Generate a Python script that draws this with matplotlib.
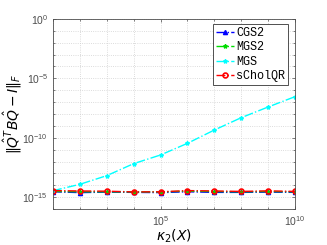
import numpy as np
import matplotlib
matplotlib.use("Agg")
import matplotlib.pyplot as plt
from matplotlib.ticker import NullFormatter

plt.rcParams['font.family'] = ['Liberation Sans', 'DejaVu Sans']

# condition numbers kappa_2(X)
kappa = [1e1, 1e2, 1e3, 1e4, 1e5, 1e6, 1e7, 1e8, 1e9, 1e10]

# loss of orthogonality (log10 values)
cgs2_exp = [-14.55, -14.62, -14.58, -14.6, -14.62, -14.55, -14.6, -14.6, -14.58, -14.6]
mgs2_exp = [-14.52, -14.55, -14.55, -14.56, -14.56, -14.5, -14.53, -14.55, -14.53, -14.55]
mgs_exp = [-14.46, -13.92, -13.19, -12.18, -11.45, -10.47, -9.35, -8.31, -7.41, -6.54]
schol_exp = [-14.45, -14.48, -14.5, -14.56, -14.55, -14.45, -14.48, -14.52, -14.47, -14.52]

cgs2 = 10.0 ** np.array(cgs2_exp)
mgs2 = 10.0 ** np.array(mgs2_exp)
mgs = 10.0 ** np.array(mgs_exp)
schol = 10.0 ** np.array(schol_exp)

fig = plt.figure(figsize=(3.27, 2.45), dpi=100)
ax = fig.add_axes([53/327, 1 - 209/245, (295-53)/327, (209-19)/245])

mono = ['Liberation Mono', 'DejaVu Sans Mono']
ax.loglog(kappa, cgs2, color='b', linestyle='-.', marker='^', markersize=3, lw=1, label='CGS2')
ax.loglog(kappa, mgs2, color='#00dd00', linestyle='-.', marker='*', markersize=3, lw=1, label='MGS2')
ax.loglog(kappa, mgs, color='cyan', linestyle='-.', marker='*', markersize=3, lw=1, label='MGS')
ax.loglog(kappa, schol, color='r', linestyle='-.', marker='o', markersize=3.5, mfc='none',
          mew=1.2, lw=1, label='sCholQR')

ax.set_xlim(1e1, 1e10)
ax.set_ylim(1e-16, 1e0)
ax.set_xticks([1e5, 1e10])
ax.set_yticks([1e0, 1e-5, 1e-10, 1e-15])
ax.set_xticks([10.0**k for k in range(1, 11)], minor=True)
ax.set_yticks([10.0**k for k in range(-16, 1)], minor=True)
ax.xaxis.set_minor_formatter(NullFormatter())
ax.yaxis.set_minor_formatter(NullFormatter())
ax.grid(True, which='both', color='#d0d0d0', linestyle=':', linewidth=0.6)
ax.tick_params(which='both', direction='in', top=True, right=True, colors='#4d4d4d',
               labelsize=7.5, length=2, width=0.5)
ax.tick_params(which='minor', length=1.2)
for s in ax.spines.values():
    s.set_color('#4d4d4d')
    s.set_linewidth(0.6)

ax.set_xlabel(r'$\kappa_2(X)$', fontsize=10, labelpad=0)
ax.set_ylabel(r'$\|\hat{Q}^T B\hat{Q} - I\|_F$', fontsize=10)
ax.yaxis.set_label_coords(-0.121, 0.5)

leg = ax.legend(loc='upper right', bbox_to_anchor=(288/327, 1 - 24/245),
                bbox_transform=fig.transFigure,
                prop={'family': mono, 'size': 8.5}, frameon=True,
                fancybox=False, edgecolor='#333333', framealpha=1, borderpad=0.25,
                handlelength=1.5, handletextpad=0.2, labelspacing=0.2,
                borderaxespad=0)
leg.get_frame().set_linewidth(0.6)

fig.savefig('out.png', dpi=100)
